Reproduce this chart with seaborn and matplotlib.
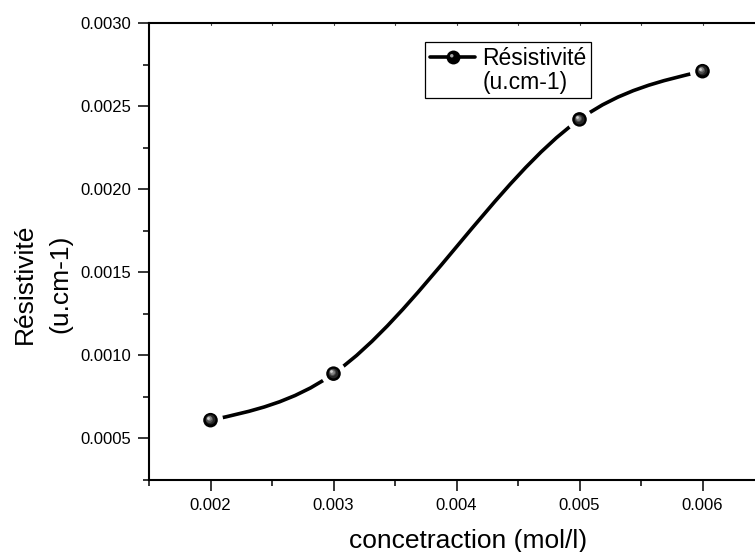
import numpy as np
import pandas as pd
import seaborn as sns
import matplotlib.pyplot as plt
from matplotlib.path import Path
from matplotlib.patches import PathPatch
from matplotlib.lines import Line2D
from matplotlib.legend_handler import HandlerTuple
from matplotlib.ticker import MultipleLocator, FormatStrFormatter
from matplotlib.transforms import offset_copy

# valeurs
concentration = [0.002, 0.003, 0.005, 0.006]
resistivite = [0.00061, 0.00089, 0.00242, 0.00271]

df = pd.DataFrame({"conc": concentration, "res": resistivite})

sns.set_theme(style="ticks")
plt.rcParams['font.family'] = ['Liberation Sans', 'DejaVu Sans']
plt.rcParams['text.color'] = 'black'
plt.rcParams['axes.labelcolor'] = 'black'
plt.rcParams['xtick.color'] = 'black'
plt.rcParams['ytick.color'] = 'black'

fig = plt.figure(figsize=(7.55, 5.52), dpi=100)
ax = fig.add_axes([149 / 755, 1 - 480 / 552, 615 / 755, 457 / 552])


def spline_path(x, y):
    # spline cubique naturelle, tracee en segments de Bezier
    x = np.asarray(x, float)
    y = np.asarray(y, float)
    n = len(x)
    h = np.diff(x)
    s = np.diff(y) / h
    A = np.zeros((n, n))
    b = np.zeros(n)
    A[0, 0] = A[-1, -1] = 1
    for i in range(1, n - 1):
        A[i, i - 1] = h[i - 1]
        A[i, i] = 2 * (h[i - 1] + h[i])
        A[i, i + 1] = h[i]
        b[i] = 6 * (s[i] - s[i - 1])
    M = np.linalg.solve(A, b)
    d = np.zeros(n)
    for i in range(n - 1):
        d[i] = s[i] - h[i] * (2 * M[i] + M[i + 1]) / 6
    d[-1] = s[-1] + h[-1] * (M[-2] + 2 * M[-1]) / 6
    verts = [(x[0], y[0])]
    codes = [Path.MOVETO]
    for i in range(n - 1):
        verts += [(x[i] + h[i] / 3, y[i] + h[i] / 3 * d[i]),
                  (x[i + 1] - h[i] / 3, y[i + 1] - h[i] / 3 * d[i + 1]),
                  (x[i + 1], y[i + 1])]
        codes += [Path.CURVE4] * 3
    return Path(verts, codes)


ax.add_patch(PathPatch(spline_path(df["conc"], df["res"]), fill=False,
                       edgecolor='black', lw=2.6, zorder=2, capstyle='butt'))

# anneau blanc (espace autour des symboles) puis spheres
sns.scatterplot(data=df, x="conc", y="res", ax=ax, s=330, color='white',
                edgecolor='none', zorder=3, legend=False)
sns.scatterplot(data=df, x="conc", y="res", ax=ax, s=110, color='black',
                edgecolor='none', zorder=4, legend=False)
shades = [(7.0, '#262626', 0.5), (5.0, '#4f4f4f', 0.9), (3.4, '#858585', 1.3), (2.0, '#cfcfcf', 1.6)]
for ms, col, off in shades:
    tr = offset_copy(ax.transData, fig=fig, x=-off, y=off, units='points')
    ax.plot(df["conc"], df["res"], 'o', ms=ms, color=col, mec='none',
            transform=tr, zorder=5)

ax.set_xlim(0.0015, 0.0065)
ax.set_ylim(0.00025, 0.0030)
ax.xaxis.set_minor_locator(MultipleLocator(0.0005))
ax.yaxis.set_major_locator(MultipleLocator(0.0005))
ax.yaxis.set_minor_locator(MultipleLocator(0.00025))
ax.xaxis.set_major_formatter(FormatStrFormatter('%.3f'))
ax.yaxis.set_major_formatter(FormatStrFormatter('%.4f'))
ax.set_xticks([0.002, 0.003, 0.004, 0.005, 0.006])

ax.tick_params(axis='both', which='major', direction='out', length=8, width=1.1,
               labelsize=12, pad=5)
ax.tick_params(axis='both', which='minor', direction='out', length=4.5, width=1.1)
ax.tick_params(axis='x', which='both', top=False)
for side in ['left', 'bottom', 'top', 'right']:
    ax.spines[side].set_linewidth(1.5)
    ax.spines[side].set_color('black')

# petits traits sur l'axe du haut
for xt in np.arange(0.002, 0.0065, 0.0005):
    ax.plot([xt, xt], [0.0030, 0.0030 - 0.000012], color='#444444', lw=0.8,
            clip_on=False, zorder=1)

ax.set_xlabel("concetraction (mol/l)", fontsize=19)
ax.set_ylabel("Résistivité\n(u.cm-1)", fontsize=19, linespacing=1.6)
ax.xaxis.set_label_coords(0.518, -0.108)
ax.yaxis.set_label_coords(-0.125, 0.43)

# reflet decale dans le symbole de la legende
reflet = Path.circle(center=(-1, 1), radius=1)
h_line = Line2D([], [], color='black', lw=2.6, marker='o', ms=10, mec='none')
h_hi = Line2D([], [], linestyle='none', marker=reflet, ms=5.0, color='#a8a8a8', mec='none')
h_blank = Line2D([], [], linestyle='none', marker='none')
leg = ax.legend(handles=[(h_line, h_hi), h_blank], labels=["Résistivité", "(u.cm-1)"],
                handler_map={tuple: HandlerTuple(ndivide=1)},
                loc='upper left', bbox_to_anchor=(425 / 755, 1 - 42 / 552),
                bbox_transform=fig.transFigure, borderaxespad=0, fontsize=16.5,
                frameon=True, fancybox=False, framealpha=1, edgecolor='black',
                handlelength=2.0, handletextpad=0.3, borderpad=0.2,
                labelspacing=0.05)
leg.get_frame().set_linewidth(0.9)

fig.savefig("out.png", dpi=100)
